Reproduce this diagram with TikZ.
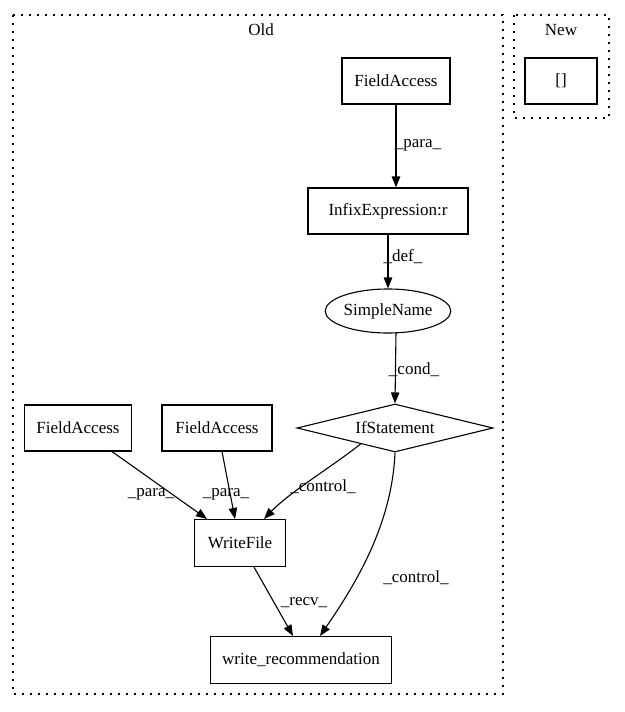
\documentclass[tikz,border=0pt]{standalone}
\usepackage{fontspec}
\setmainfont{Liberation Serif}
\usetikzlibrary{arrows.meta,shapes.geometric,calc}
\begin{document}
\begin{tikzpicture}[x=1pt,y=-1pt,
  font=\fontsize{17}{20}\selectfont,
  box/.style={draw, line width=1.1pt, rectangle, inner sep=0pt},
  cluster/.style={draw, line width=1.3pt, dash pattern=on 1.6pt off 6.4pt},
  edge/.style={draw, line width=1.1pt, -{Triangle[length=11pt,width=8.5pt]}},
  lbl/.style={inner sep=0pt}]
\useasboundingbox (0,0) rectangle (624,712);
% clusters
\draw[cluster] (13,15) rectangle (503,694);
\draw[cluster] (514,15) rectangle (609,118);
\node[lbl] (oldlbl) at (261,30) {Old};
\node[lbl] (newlbl) at (561,30) {New};
% nodes
\node[box, minimum width=108pt, minimum height=46pt] (fa1) at (396,81) {FieldAccess};
\node[box, minimum width=160pt, minimum height=46pt] (infix) at (388,211) {InfixExpression:r};
\node[draw, line width=1.1pt, ellipse, inner sep=0pt, minimum width=112pt, minimum height=44pt] (sn) at (388,311) {SimpleName};
\node[draw, line width=1.1pt, diamond, aspect=4.1, inner sep=0pt, minimum width=196pt, minimum height=48pt] (ifs) at (395,428) {IfStatement};
\node[box, minimum width=107pt, minimum height=46pt] (fa2) at (78,428) {FieldAccess};
\node[box, minimum width=110pt, minimum height=46pt] (fa3) at (217,428) {FieldAccess};
\node[box, minimum width=91pt, minimum height=47pt] (wf) at (240,543) {WriteFile};
\node[box, minimum width=181pt, minimum height=47pt] (wr) at (301,660) {write\_recommendation};
\node[box, minimum width=72pt, minimum height=46pt] (nb) at (561,81) {[]};
% edges
\draw[edge] (fa1.south) -- (fa1.south |- infix.north);
\draw[edge] (infix.south) -- (sn.north);
\draw[edge] ($(sn.south)+(8,-1)$) -- (ifs.north);
\draw[edge] ($(fa2.south)+(34,0)$) -- ($(wf.north)+(-33,0)$);
\draw[edge] ($(fa3.south)+(5,0)$) -- ($(wf.north)+(-5,0)$);
\draw[edge] (ifs.205) .. controls (330,468) and (290,492) .. ($(wf.north)+(24,0)$);
\draw[edge] (ifs.south) .. controls (392,525) and (355,585) .. ($(wr.north)+(19,0)$);
\draw[edge] ($(wf.south)+(14,0)$) -- ($(wr.north)+(-8,0)$);
% labels
\node[lbl] (l1) at (418,145) {\_para\_};
\node[lbl] (l2) at (403,257) {\_def\_};
\node[lbl] (l3) at (414,370) {\_cond\_};
\node[lbl] (l4) at (151,494) {\_para\_};
\node[lbl] (l5) at (226,494) {\_para\_};
\node[lbl] (l6) at (323,487) {\_control\_};
\node[lbl] (l7) at (416,578) {\_control\_};
\node[lbl] (l8) at (304,603) {\_recv\_};
\end{tikzpicture}
\end{document}
